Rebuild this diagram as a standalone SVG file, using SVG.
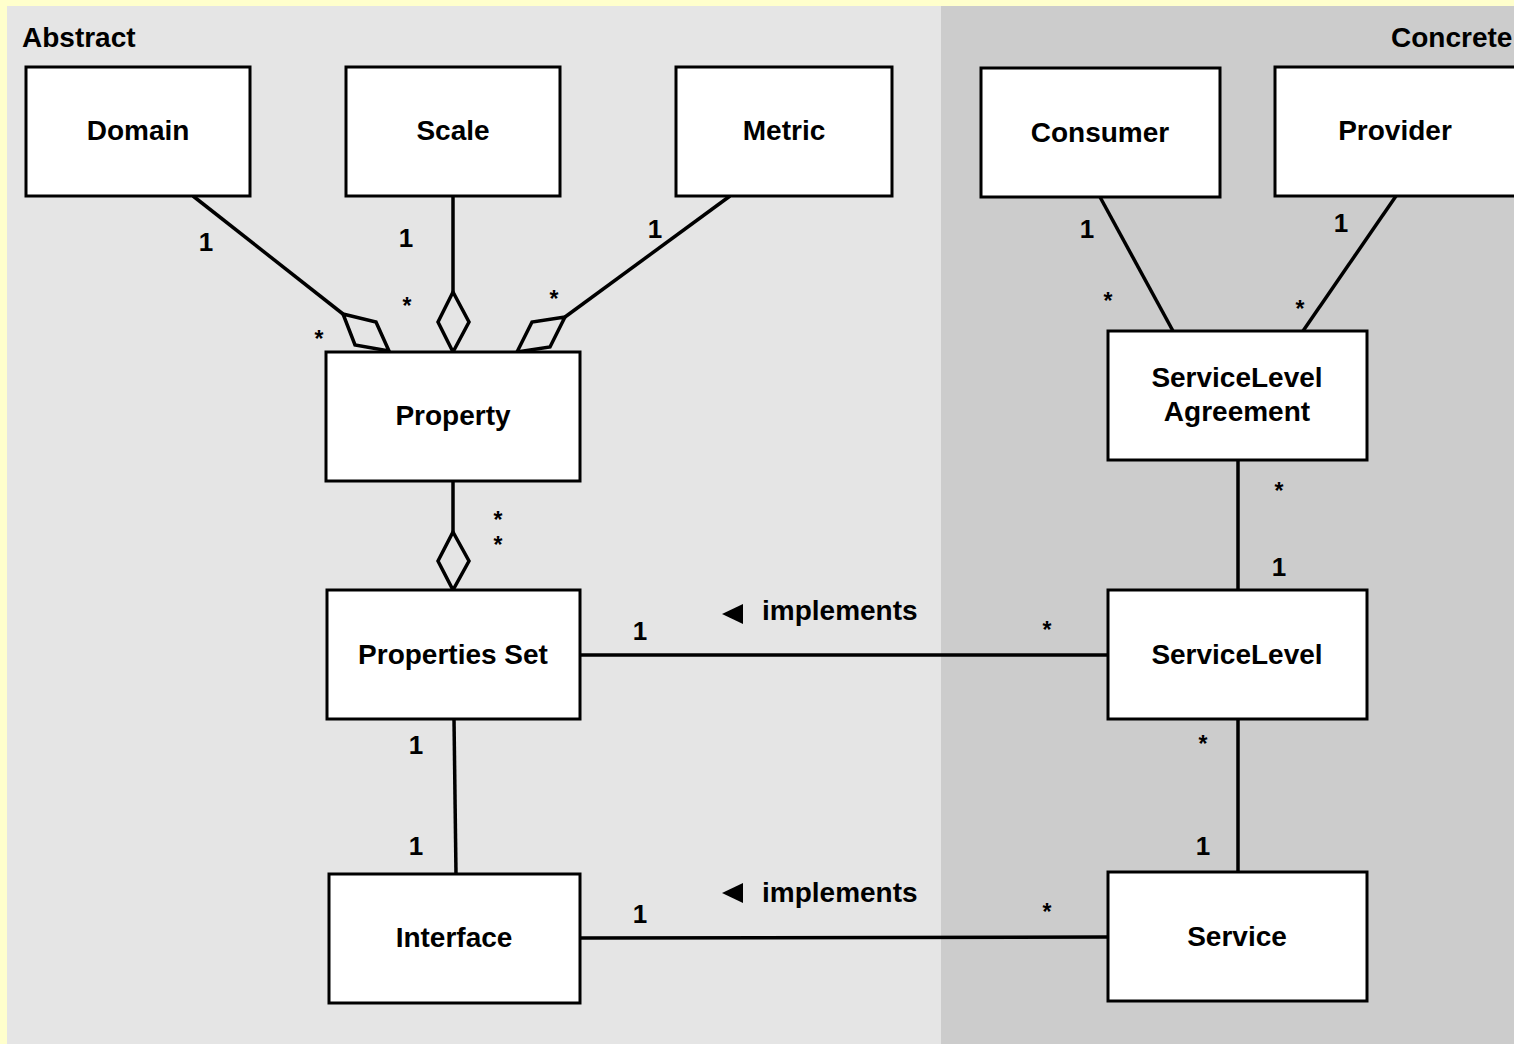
<svg xmlns="http://www.w3.org/2000/svg" width="1514" height="1044" viewBox="0 0 1514 1044">
<style>
.box{fill:#ffffff;stroke:#000;stroke-width:3}
.ln{fill:none;stroke:#000;stroke-width:3.5}
.dia{fill:none;stroke:#000;stroke-width:3.5;stroke-linejoin:miter}
text{font-family:"Liberation Sans",Arial,sans-serif;font-weight:bold;fill:#000}
.nt{font-size:28px;text-anchor:middle}
.m1{font-size:26px;text-anchor:middle}
.ms{font-size:23px;text-anchor:middle}
.hd{font-size:28px}
</style>
<rect x="0" y="0" width="1514" height="1044" fill="#ffffcc"/>
<rect x="7" y="6" width="934" height="1038" fill="#e5e5e5"/>
<rect x="941" y="6" width="573" height="1038" fill="#cccccc"/>
<text class="hd" x="22" y="47">Abstract</text>
<text class="hd" x="1391" y="47">Concrete</text>

<g id="connectors">
<line class="ln" x1="193" y1="196" x2="343" y2="314"/>
<polygon class="dia" points="343,314 376,322 389,351 355,345"/>
<line class="ln" x1="453" y1="196" x2="453" y2="292"/>
<polygon class="dia" points="453,292 469,322 453,352 438,322"/>
<line class="ln" x1="730" y1="196" x2="565" y2="317"/>
<polygon class="dia" points="565,317 550,347 517,352 532,322"/>
<line class="ln" x1="453" y1="481" x2="453" y2="532"/>
<polygon class="dia" points="453,532 469,561 453,590 438,561"/>
<line class="ln" x1="1100" y1="197" x2="1173" y2="331"/>
<line class="ln" x1="1396" y1="196" x2="1303" y2="331"/>
<line class="ln" x1="1238" y1="460" x2="1238" y2="590"/>
<line class="ln" x1="1238" y1="719" x2="1238" y2="872"/>
<line class="ln" x1="454" y1="719" x2="456" y2="874"/>
<line class="ln" x1="580" y1="655" x2="1108" y2="655"/>
<line class="ln" x1="580" y1="938" x2="1108" y2="937"/>
<polygon points="722,614 743,604 743,624" fill="#000"/>
<polygon points="722,893 743,883 743,903" fill="#000"/>
<text x="762" y="620" style="font-size:28px">implements</text>
<text x="762" y="902" style="font-size:28px">implements</text>
<text class="m1" x="206" y="251">1</text>
<text class="ms" x="319" y="347">*</text>
<text class="m1" x="406" y="247">1</text>
<text class="ms" x="407" y="314">*</text>
<text class="m1" x="655" y="238">1</text>
<text class="ms" x="554" y="307">*</text>
<text class="m1" x="1087" y="238">1</text>
<text class="ms" x="1108" y="309">*</text>
<text class="m1" x="1341" y="232">1</text>
<text class="ms" x="1300" y="317">*</text>
<text class="ms" x="498" y="528">*</text>
<text class="ms" x="498" y="553">*</text>
<text class="ms" x="1279" y="499">*</text>
<text class="m1" x="1279" y="576">1</text>
<text class="m1" x="640" y="640">1</text>
<text class="ms" x="1047" y="638">*</text>
<text class="m1" x="416" y="754">1</text>
<text class="m1" x="416" y="855">1</text>
<text class="ms" x="1203" y="752">*</text>
<text class="m1" x="1203" y="855">1</text>
<text class="m1" x="640" y="923">1</text>
<text class="ms" x="1047" y="920">*</text>
</g>

<g id="domain"><rect class="box" x="26" y="67" width="224" height="129"/><text class="nt" x="138" y="140">Domain</text></g>
<g id="scale"><rect class="box" x="346" y="67" width="214" height="129"/><text class="nt" x="453" y="140">Scale</text></g>
<g id="metric"><rect class="box" x="676" y="67" width="216" height="129"/><text class="nt" x="784" y="140">Metric</text></g>
<g id="consumer"><rect class="box" x="981" y="68" width="239" height="129"/><text class="nt" x="1100" y="142">Consumer</text></g>
<g id="provider"><rect class="box" x="1275" y="67" width="250" height="129"/><text class="nt" x="1395" y="140">Provider</text></g>
<g id="property"><rect class="box" x="326" y="352" width="254" height="129"/><text class="nt" x="453" y="425">Property</text></g>
<g id="propertiesset"><rect class="box" x="327" y="590" width="253" height="129"/><text class="nt" x="453" y="664">Properties Set</text></g>
<g id="interface"><rect class="box" x="329" y="874" width="251" height="129"/><text class="nt" x="454" y="947">Interface</text></g>
<g id="sla"><rect class="box" x="1108" y="331" width="259" height="129"/><text class="nt" x="1237" y="387">ServiceLevel</text><text class="nt" x="1237" y="421">Agreement</text></g>
<g id="servicelevel"><rect class="box" x="1108" y="590" width="259" height="129"/><text class="nt" x="1237" y="664">ServiceLevel</text></g>
<g id="service"><rect class="box" x="1108" y="872" width="259" height="129"/><text class="nt" x="1237" y="946">Service</text></g>
</svg>
